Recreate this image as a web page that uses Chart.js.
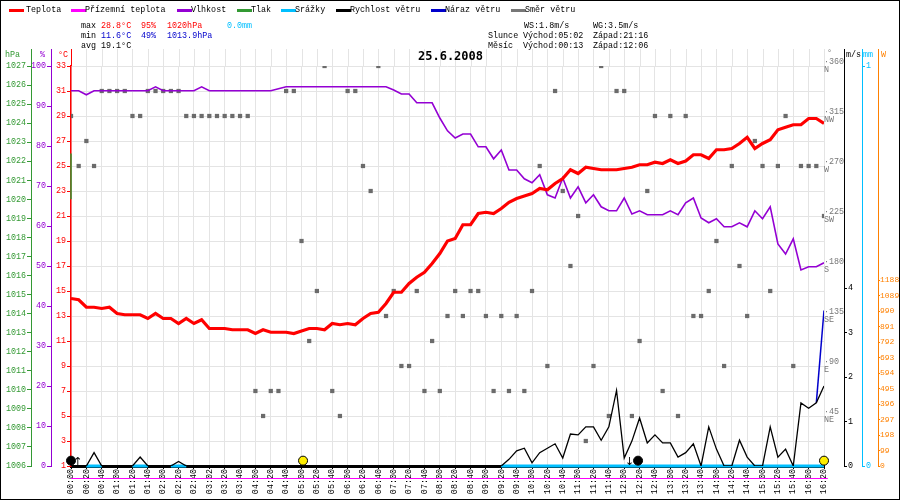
<!DOCTYPE html>
<html><head><meta charset="utf-8">
<script src="https://cdn.jsdelivr.net/npm/chart.js@4"></script>
<style>
html,body{margin:0;padding:0;background:#fff;}
#wrap{position:relative;width:900px;height:500px;box-sizing:border-box;border:1px solid #000;overflow:hidden;}
canvas{position:absolute;left:0;top:0;}
.t{position:absolute;font-family:"Liberation Mono","DejaVu Sans Mono",monospace;font-size:8.4px;white-space:pre;line-height:10px;color:#000;}
.mk{position:absolute;height:3px;width:15px;top:8px;}
</style></head><body>
<div id="wrap"><canvas id="c" width="900" height="500"></canvas></div>
<script>
const timeLabels=["00:00","00:20","00:40","01:00","01:20","01:40","02:00","02:20","02:40","03:02","03:20","03:40","04:00","04:20","04:40","05:00","05:20","05:40","06:00","06:20","06:40","07:00","07:20","07:40","08:00","08:20","08:40","09:00","09:20","09:40","10:00","10:20","10:40","11:00","11:20","11:40","12:00","12:20","12:40","13:00","13:20","13:40","14:00","14:20","14:40","15:00","15:20","15:40","16:00","16:20"];
const temperature=[14.4,14.3,13.7,13.7,13.6,13.7,13.2,13.1,13.1,13.1,12.8,13.2,12.8,12.8,12.4,12.8,12.4,12.7,12.0,12.0,12.0,11.9,11.9,11.9,11.6,11.9,11.7,11.7,11.7,11.6,11.8,12.0,12.0,11.9,12.4,12.3,12.4,12.3,12.8,13.2,13.3,14.0,14.9,14.9,15.6,16.1,16.5,17.2,18.0,19.0,19.2,20.3,20.3,21.2,21.3,21.2,21.6,22.1,22.4,22.6,22.8,23.2,23.1,23.6,24.0,24.7,24.4,24.9,24.8,24.7,24.7,24.7,24.8,24.9,25.1,25.1,25.3,25.2,25.5,25.2,25.4,25.9,25.9,25.6,26.3,26.3,26.4,26.8,27.3,26.4,26.8,27.1,27.9,28.1,28.3,28.3,28.8,28.8,28.4];
const humidity=[93.8,93.8,92.8,93.8,93.8,93.8,93.8,93.8,93.8,93.8,93.8,94.8,93.8,93.8,93.8,93.8,93.8,94.8,93.8,93.8,93.8,93.8,93.8,93.8,93.8,93.8,93.8,94.3,94.8,94.8,94.8,94.8,94.8,94.8,94.8,94.8,94.8,94.8,94.8,94.8,94.8,94.8,94,93,93,90.8,90.8,90.8,87,83.8,82,83,83,79.8,79.8,76.8,79,74,74,71.8,70.8,72.8,67.8,67,72,67,69.8,65.8,67.8,64.8,63.8,63.8,67,63,63.8,62.8,62.8,62.8,63.8,62.8,65.8,67,62,60.8,61.8,59.8,59.8,60.8,59.8,63.8,61.8,64.8,55.5,53,56.8,49,49.8,49.8,50.8];
const windSpeed=[0,0,0,0.3,0,0,0,0,0,0.2,0,0,0,0,0.1,0,0,0,0,0,0,0,0,0,0,0,0,0,0,0,0,0,0,0,0,0,0,0,0,0,0,0,0,0,0,0,0,0,0,0,0,0,0,0,0,0,0,0.15,0.34,0.4,0.07,0.3,0.4,0.5,0.18,0.72,0.7,0.88,0.88,0.58,0.88,1.7,0.18,0.56,1.08,0.52,0.7,0.52,0.52,0.2,0.3,0.5,0,0.88,0.38,0,0,0.58,0.2,0,0,0.88,0.2,0.38,0,1.42,1.3,1.42,1.8];
const windGust={97:1.42,98:3.5};
const windDir=[315,270,292.5,270,337.5,337.5,337.5,337.5,315,315,337.5,337.5,337.5,337.5,337.5,315,315,315,315,315,315,315,315,315,67.5,45,67.5,67.5,337.5,337.5,202.5,112.5,157.5,360,67.5,45,337.5,337.5,270,247.5,360,135,157.5,90,90,157.5,67.5,112.5,67.5,135,157.5,135,157.5,157.5,135,67.5,135,67.5,135,67.5,157.5,270,90,337.5,247.5,180,225,22.5,90,360,45,337.5,337.5,45,112.5,247.5,315,67.5,315,45,315,135,135,157.5,202.5,90,270,180,135,292.5,270,157.5,270,315,90,270,270,270,225];
const rainIdx=[2,3,4,8,9,10,13,14,15];
const groundTemp=0;
const pressure=[1022.4,1020];
const sunEvents=[302,980];
const moonEvents=[0,738];
const dirNames={360:"N",315:"NW",270:"W",225:"SW",180:"S",135:"SE",90:"E",45:"NE"};
const wTicks=[0,99,198,297,396,495,594,693,792,891,990,1089,1188];

const pts=(arr)=>arr.map((v,i)=>({x:i*10,y:v}));
const rain=temperature.map((v,i)=>({x:i*10,y:(rainIdx.includes(i)||i>=56)?0:null}));
const gust=temperature.map((v,i)=>({x:i*10,y:windGust[i]!==undefined?windGust[i]:null}));
const F='"Liberation Mono","DejaVu Sans Mono",monospace';
Chart.defaults.font.family=F;Chart.defaults.font.size=8.4;
Chart.defaults.animation=false;
const plain=v=>String(v);

function fit(w){return function(s){s.width=w;};}
const extPlugin={id:'ext',afterDraw(ch){
  const c=ch.ctx,ca=ch.chartArea;c.save();
  c.strokeStyle='#e4e4e4';c.lineWidth=1;
  for(let m=0;m<=980;m+=20){const x=Math.round(ch.scales.x.getPixelForValue(m))+0.5;c.beginPath();c.moveTo(x,48);c.lineTo(x,ca.top);c.stroke();}
  const lines=[['hp','#339933'],['hum','#9400d3'],['t','#ff0000'],['ms','#000'],['mm','#00bfff'],['w','#ff8000']];
  lines.forEach(([id,col])=>{const s=ch.scales[id];const x=(s.position==='left'?s.right:s.left);c.strokeStyle=col;c.lineWidth=1;c.beginPath();c.moveTo(Math.round(x)+0.5,48);c.lineTo(Math.round(x)+0.5,ca.top);c.stroke();});
  c.fillStyle='#000';c.font='11px "DejaVu Sans"';c.textAlign='center';
  c.fillText('↑',ch.scales.x.getPixelForValue(9),464);
  c.fillText('↓',ch.scales.x.getPixelForValue(727),464);
  c.restore();
}};

new Chart(document.getElementById('c'),{
 type:'line',
 data:{datasets:[
  {label:'Směr větru',type:'scatter',data:pts(windDir),yAxisID:'dir',pointStyle:'rect',pointRadius:3,pointBackgroundColor:'#6b6b6b',pointBorderWidth:0,showLine:false,order:9},
  {label:'Srážky',data:rain,yAxisID:'mm',borderColor:'#00bfff',borderWidth:3,pointRadius:0,spanGaps:false,clip:false,order:8},
  {label:'Vlhkost',data:pts(humidity),yAxisID:'hum',borderColor:'#9400d3',borderWidth:1.6,pointRadius:0,order:5},
  {label:'Teplota',data:pts(temperature),yAxisID:'t',borderColor:'#ff0000',borderWidth:3.2,pointRadius:0,order:4},
  {label:'Přízemní teplota',data:[{x:0,y:groundTemp},{x:985,y:groundTemp}],yAxisID:'t',borderColor:'#ff00ff',borderWidth:1.2,pointRadius:0,clip:false,order:6},
  {label:'Tlak',data:pressure.map(v=>({x:0,y:v})),yAxisID:'hp',borderColor:'#339933',borderWidth:1.5,pointRadius:0,clip:false,order:3},
  {label:'Náraz větru',data:gust,yAxisID:'ms',borderColor:'#0000cc',borderWidth:1.5,pointRadius:0,order:3},
  {label:'Rychlost větru',data:pts(windSpeed),yAxisID:'ms',borderColor:'#000',borderWidth:1.3,pointRadius:0,order:2},
  {label:'sun',type:'scatter',data:sunEvents.map(m=>({x:m,y:0.12})),yAxisID:'ms',pointRadius:4.5,pointBackgroundColor:'#ffee00',pointBorderColor:'#000',pointBorderWidth:1,clip:false,order:1},
  {label:'moon',type:'scatter',data:moonEvents.map(m=>({x:m,y:0.12})),yAxisID:'ms',pointRadius:4.5,pointBackgroundColor:'#000',pointBorderColor:'#000',clip:false,order:1}
 ]},
 options:{responsive:false,animation:false,
  layout:{padding:{top:65,left:0,right:0,bottom:0}},
  plugins:{legend:{display:false},tooltip:{enabled:false}},
  scales:{
   x:{type:'linear',min:0,max:980,afterFit:s=>{s.height=35;},
      afterBuildTicks:s=>{s.ticks=timeLabels.map((l,i)=>({value:i*20}));},
      ticks:{autoSkip:false,minRotation:90,maxRotation:90,color:'#000',padding:0,callback:(v)=>timeLabels[Math.round(v/20)],font:{size:8.4}},
      grid:{color:'#e4e4e4',tickLength:3,tickColor:'#000'},border:{color:'#000',width:3}},
   t:{position:'left',min:1,max:33,afterFit:fit(20),ticks:{stepSize:2,color:'#ff0000',padding:1,callback:plain},grid:{color:'#e4e4e4',tickColor:'#ff0000',tickLength:4},border:{color:'#ff0000',width:1.5}},
   hum:{position:'left',min:0,max:100,afterFit:fit(20),ticks:{stepSize:10,color:'#9400d3',padding:1,callback:plain},grid:{drawOnChartArea:false,tickLength:4,color:'#9400d3'},border:{color:'#9400d3'}},
   hp:{position:'left',min:1006,max:1027,afterFit:fit(30),afterBuildTicks:s=>{s.ticks=[];for(let v=1006;v<=1027;v++)s.ticks.push({value:v});},
      ticks:{color:'#339933',padding:1,autoSkip:false,callback:plain},grid:{drawOnChartArea:false,tickLength:4,color:'#339933'},border:{color:'#339933'}},
   dir:{position:'right',min:0,max:360,afterFit:fit(20),afterBuildTicks:s=>{s.ticks=[45,90,135,180,225,270,315,360].map(v=>({value:v}));},
      ticks:{color:'#777',padding:0,callback:v=>['·'+v,dirNames[v]],font:{size:8.4,lineHeight:1}},grid:{drawOnChartArea:false,drawTicks:false,tickLength:0,display:false},border:{display:false}},
   ms:{position:'right',min:0,max:9,afterFit:fit(18),afterBuildTicks:s=>{s.ticks=[0,1,2,3,4].map(v=>({value:v}));},
      ticks:{color:'#000',padding:1,callback:plain},grid:{drawOnChartArea:false,tickLength:3,color:'#000'},border:{color:'#000'}},
   mm:{position:'right',min:0,max:1,afterFit:fit(16),afterBuildTicks:s=>{s.ticks=[{value:0},{value:1}];},
      ticks:{color:'#00bfff',padding:1,callback:plain},grid:{drawOnChartArea:false,tickLength:3,color:'#00bfff'},border:{color:'#00bfff'}},
   w:{position:'right',min:0,max:2555,afterFit:fit(23),afterBuildTicks:s=>{s.ticks=wTicks.map(v=>({value:v}));},
      ticks:{color:'#ff8000',padding:0,autoSkip:false,callback:plain,font:{size:8}},grid:{drawOnChartArea:false,tickLength:2,color:'#ff8000'},border:{color:'#ff8000'}}
  }},
 plugins:[extPlugin]
});

const wrap=document.getElementById('wrap');
function txt(x,y,s,col,extra){const d=document.createElement('div');d.className='t';d.style.left=x+'px';d.style.top=y+'px';d.textContent=s;if(col)d.style.color=col;if(extra)Object.assign(d.style,extra);wrap.appendChild(d);}
function mk(x,col){const d=document.createElement('div');d.className='mk';d.style.left=x+'px';d.style.background=col;wrap.appendChild(d);}
const legend=[[8,25,'Teplota','#ff0000'],[70,84,'Přízemní teplota','#ff00ff'],[176,190,'Vlhkost','#9400d3'],[236,250,'Tlak','#339933'],[280,294,'Srážky','#00bfff'],[335,349,'Rychlost větru','#000'],[430,444,'Náraz větru','#0000cc'],[510,524,'Směr větru','#777']];
legend.forEach(([mx,tx,s,c])=>{mk(mx,c);txt(tx,4,s);});
txt(80,20,'max');txt(100,20,'28.8°C','#ff0000');txt(140,20,'95%','#ff0000');txt(166,20,'1020hPa','#ff0000');txt(226,20,'0.0mm','#00bfff');
txt(80,30,'min');txt(100,30,'11.6°C','#0000cc');txt(140,30,'49%','#0000cc');txt(166,30,'1013.9hPa','#0000cc');
txt(80,40,'avg');txt(100,40,'19.1°C');
txt(523,20,'WS:1.8m/s');txt(592,20,'WG:3.5m/s');
txt(487,30,'Slunce');txt(522,30,'Východ:05:02');txt(592,30,'Západ:21:16');
txt(487,40,'Měsíc');txt(522,40,'Východ:00:13');txt(592,40,'Západ:12:06');
txt(4,49,'hPa','#339933');txt(39,49,'%','#9400d3');txt(57,49,'°C','#ff0000');
txt(826,47,'°','#777');txt(845,49,'m/s','#000');txt(862,49,'mm','#00bfff');txt(880,49,'W','#ff8000');
txt(417,50,'25.6.2008','#000',{fontSize:'12px',fontWeight:'bold',fontFamily:'"DejaVu Sans Mono",monospace'});
</script></body></html>
